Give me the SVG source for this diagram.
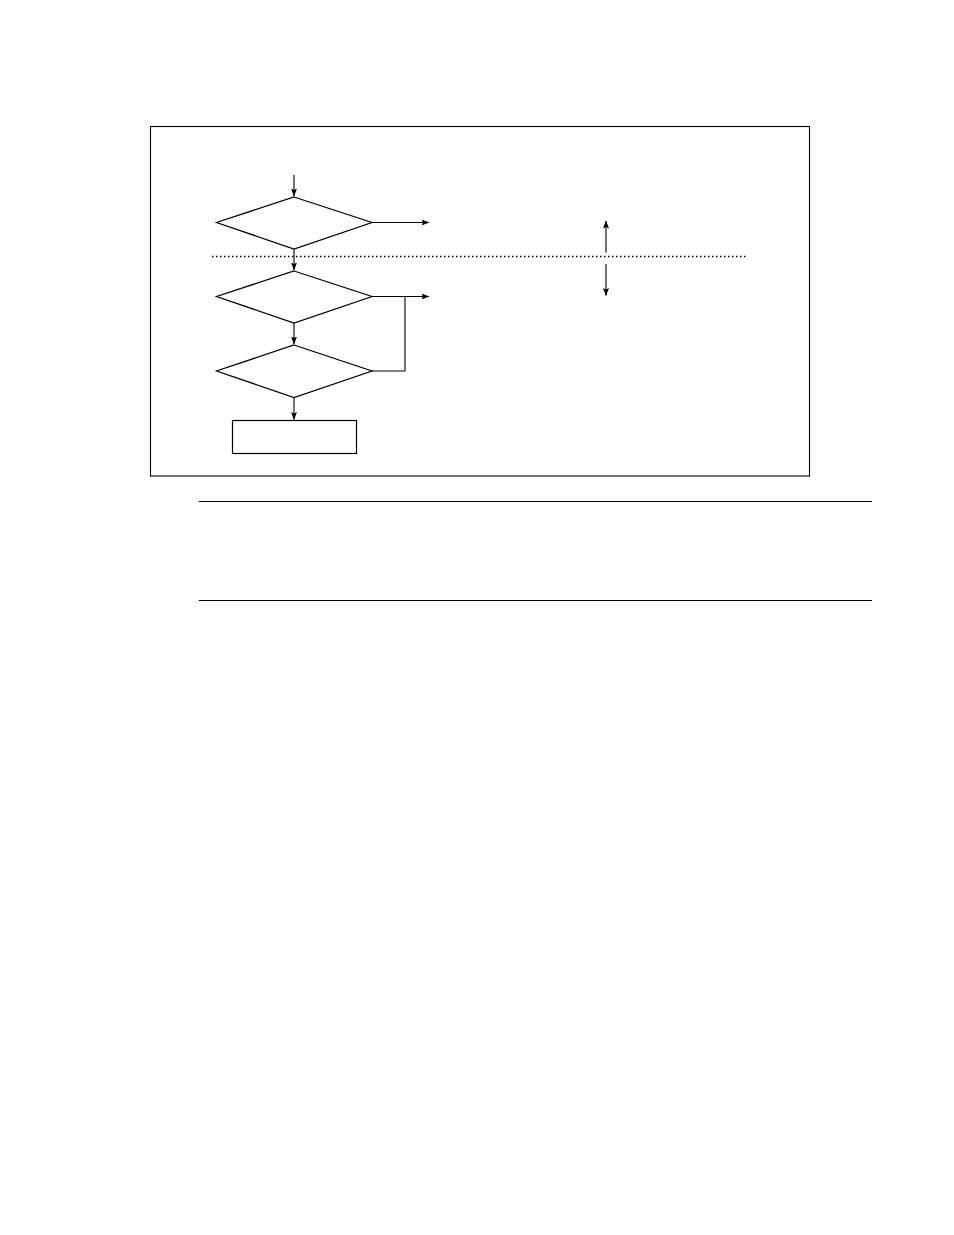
<svg xmlns="http://www.w3.org/2000/svg" width="954" height="1235" viewBox="0 0 954 1235">
<style>
.s{fill:none;stroke:#000;stroke-width:1.1}
.n{fill:#fff;stroke:#000;stroke-width:1.2}
.c{fill:none;stroke:#000;stroke-width:1.1}
.d{fill:none;stroke:#000;stroke-width:1.3;stroke-dasharray:1.5 2.5}
</style>
<defs>
<marker id="ah" markerWidth="8" markerHeight="6" refX="7.5" refY="3" orient="auto" markerUnits="userSpaceOnUse">
<path d="M0,0 L8,3 L0,6 L1.5,3 Z" fill="#000"/>
</marker>
</defs>
<rect width="954" height="1235" fill="#fff"/>
<rect class="s" x="150.5" y="126.5" width="659" height="349.5"/>
<line class="d" x1="212" y1="256.5" x2="747" y2="256.5"/>
<g id="d1"><polygon class="n" points="294,197 372,222.5 294,249 216.5,222.5"/></g>
<g id="d2"><polygon class="n" points="294,271 372,296.5 294,323 216.5,296.5"/></g>
<g id="d3"><polygon class="n" points="294,345 372,371 294,397.5 216.5,371"/></g>
<g id="r1"><rect class="n" x="232.5" y="420.5" width="124" height="33"/></g>
<g id="connectors">
<line class="c" x1="294" y1="175" x2="294" y2="196" marker-end="url(#ah)"/>
<line class="c" x1="372" y1="222.5" x2="429" y2="222.5" marker-end="url(#ah)"/>
<line class="c" x1="294" y1="249" x2="294" y2="270" marker-end="url(#ah)"/>
<line class="c" x1="372" y1="296.5" x2="429" y2="296.5" marker-end="url(#ah)"/>
<polyline class="c" points="372,371 405,371 405,296.5"/>
<line class="c" x1="294" y1="323" x2="294" y2="344" marker-end="url(#ah)"/>
<line class="c" x1="294" y1="397.5" x2="294" y2="419.5" marker-end="url(#ah)"/>
<line class="c" x1="606" y1="252.5" x2="606" y2="221" marker-end="url(#ah)"/>
<line class="c" x1="606" y1="264" x2="606" y2="295.5" marker-end="url(#ah)"/>
</g>
<line class="s" x1="199" y1="501.5" x2="872" y2="501.5"/>
<line class="s" x1="199" y1="600.5" x2="872" y2="600.5"/>
</svg>
